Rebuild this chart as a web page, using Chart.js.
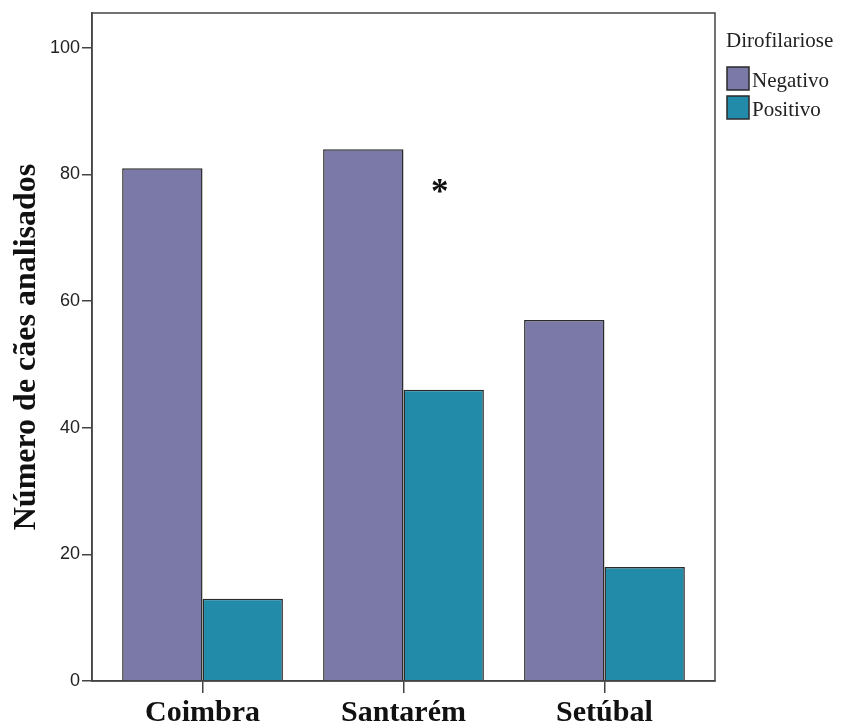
<!DOCTYPE html>
<html>
<head>
<meta charset="utf-8">
<script src="https://cdn.jsdelivr.net/npm/chart.js@4/dist/chart.umd.min.js"></script>
<style>
  html, body { margin: 0; padding: 0; background: #ffffff; }
  #wrap { width: 842px; height: 726px; }
</style>
</head>
<body>
<div id="wrap"><canvas id="chart" width="842" height="726"></canvas></div>
<script>
// Dogs tested for Dirofilaria, by district
const categories = ['Coimbra', 'Santarém', 'Setúbal'];
const negativo = [81, 84, 57];
const positivo = [13, 46, 18];
const yTicks = [0, 20, 40, 60, 80, 100];
const legendTitle = 'Dirofilariose';
const yTitle = 'Número de cães analisados';
// significance mark over Santarém
const markCategory = 'Santarém';
const markText = '*';
const markLevel = 78;

const colNeg = '#7A79A7';
const colPos = '#238BAA';
const edge = '#2a2a2a';
const serif = '"Liberation Serif", "Times New Roman", serif';
const narrow = '"Liberation Sans Narrow", "Arial Narrow", "Liberation Sans", sans-serif';

const toPoints = vals => vals.map((v, i) => ({ x: i, y: v }));

// box around the plotting area
const frame = {
  id: 'frame',
  afterDatasetsDraw(chart) {
    const { ctx, chartArea: a } = chart;
    ctx.save();
    ctx.strokeStyle = '#444444';
    ctx.lineWidth = 1.5;
    ctx.strokeRect(a.left, a.top, a.right - a.left, a.bottom - a.top);
    ctx.restore();
  }
};

// asterisk next to the Santarém pair
const marker = {
  id: 'marker',
  afterDatasetsDraw(chart) {
    const { ctx, scales: { y } } = chart;
    const meta = chart.getDatasetMeta(1);
    const bar = meta.data[categories.indexOf(markCategory)];
    ctx.save();
    ctx.fillStyle = '#111111';
    ctx.font = 'bold 35px ' + serif;
    ctx.textAlign = 'center';
    ctx.textBaseline = 'middle';
    ctx.fillText(markText, bar.x - 4, y.getPixelForValue(markLevel) + 7);
    ctx.restore();
  }
};

// legend at the right, titled
const sideLegend = {
  id: 'sideLegend',
  afterDraw(chart) {
    const { ctx, chartArea: a } = chart;
    const x0 = a.right + 11;
    ctx.save();
    ctx.fillStyle = '#222222';
    ctx.font = '21px ' + serif;
    ctx.textAlign = 'left';
    ctx.textBaseline = 'alphabetic';
    ctx.fillText(legendTitle, x0, 47);
    chart.data.datasets.forEach((ds, i) => {
      const top = 67 + i * 29;
      ctx.fillStyle = ds.backgroundColor;
      ctx.fillRect(x0 + 1, top, 22, 23);
      ctx.strokeStyle = edge;
      ctx.lineWidth = 1.5;
      ctx.strokeRect(x0 + 1, top, 22, 23);
      ctx.fillStyle = '#222222';
      ctx.font = '21px ' + serif;
      ctx.fillText(ds.label, x0 + 26, top + 20);
    });
    ctx.restore();
  }
};

new Chart(document.getElementById('chart'), {
  type: 'bar',
  data: {
    datasets: [
      { label: 'Negativo', data: toPoints(negativo), backgroundColor: colNeg, borderColor: edge, borderWidth: 1.5 },
      { label: 'Positivo', data: toPoints(positivo), backgroundColor: colPos, borderColor: edge, borderWidth: 1.5 }
    ]
  },
  options: {
    responsive: false,
    animation: false,
    events: [],
    barPercentage: 1,
    categoryPercentage: 0.8,
    layout: { padding: { top: 13, right: 127, left: 0, bottom: 0 } },
    plugins: {
      legend: { display: false },
      tooltip: { enabled: false }
    },
    scales: {
      x: {
        type: 'linear',
        min: -0.55,
        max: 2.55,
        offset: false,
        afterBuildTicks(scale) {
          scale.ticks = categories.map((c, i) => ({ value: i }));
        },
        afterFit(scale) { scale.height = 45; },
        ticks: {
          callback: v => categories[v],
          autoSkip: false,
          maxRotation: 0,
          padding: 2,
          color: '#111111',
          font: { family: serif, size: 30, weight: 'bold' }
        },
        grid: { display: true, offset: false, drawOnChartArea: false, drawTicks: true, tickLength: 12, color: '#444444', lineWidth: 1.5 },
        border: { display: true, color: '#444444', width: 1.5 }
      },
      y: {
        min: 0,
        max: 105.5,
        afterBuildTicks(scale) {
          scale.ticks = yTicks.map(v => ({ value: v }));
        },
        afterFit(scale) { scale.width = 92; },
        ticks: {
          padding: 2,
          color: '#222222',
          font: { family: narrow, size: 18 }
        },
        grid: { display: true, drawOnChartArea: false, drawTicks: true, tickLength: 10, color: '#444444', lineWidth: 1.5 },
        border: { display: true, color: '#444444', width: 1.5 },
        title: {
          display: true,
          text: yTitle,
          color: '#111111',
          padding: { top: 8, bottom: 0 },
          font: { family: serif, size: 32, weight: 'bold' }
        }
      }
    }
  },
  plugins: [frame, marker, sideLegend]
});
</script>
</body>
</html>
